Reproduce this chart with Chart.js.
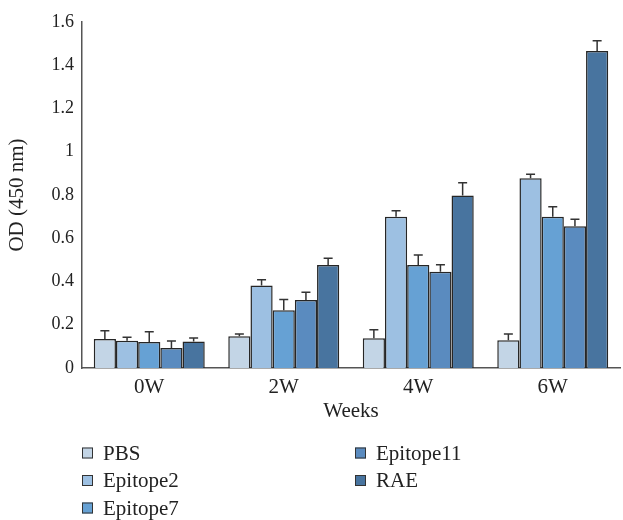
<!DOCTYPE html>
<html>
<head>
<meta charset="utf-8">
<script src="https://cdn.jsdelivr.net/npm/chart.js@4.4.0/dist/chart.umd.min.js"></script>
<style>
html,body{margin:0;padding:0;background:#fff;}
#wrap{width:623px;height:520px;position:relative;}
</style>
</head>
<body>
<div id="wrap"><canvas id="c" width="623" height="520"></canvas></div>
<script>
const categories = ['0W', '2W', '4W', '6W'];
const seriesNames = ['PBS', 'Epitope2', 'Epitope7', 'Epitope11', 'RAE'];
const pbs = [0.134, 0.147, 0.137, 0.128];
const pbsErr = [0.038, 0.010, 0.040, 0.029];
const epitope2 = [0.126, 0.382, 0.700, 0.877];
const epitope2Err = [0.016, 0.026, 0.027, 0.019];
const epitope7 = [0.120, 0.267, 0.476, 0.700];
const epitope7Err = [0.048, 0.050, 0.047, 0.046];
const epitope11 = [0.092, 0.314, 0.445, 0.655];
const epitope11Err = [0.033, 0.036, 0.033, 0.033];
const rae = [0.123, 0.476, 0.798, 1.466];
const raeErr = [0.016, 0.032, 0.059, 0.047];
const yTicks = [0, 0.2, 0.4, 0.6, 0.8, 1, 1.2, 1.4, 1.6];

const colors = ['#c3d5e6', '#9dc0e2', '#66a1d4', '#5a8bbf', '#48749f'];
const values = [pbs, epitope2, epitope7, epitope11, rae];
const errors = [pbsErr, epitope2Err, epitope7Err, epitope11Err, raeErr];

const FONT = '"Liberation Serif", "DejaVu Serif", serif';

const datasets = seriesNames.map((n, i) => ({
  label: n,
  data: values[i],
  errors: errors[i],
  backgroundColor: colors[i],
  borderColor: '#262626',
  borderWidth: 1.5,
  barPercentage: 1,
  categoryPercentage: 0.825
}));

const errorBars = {
  id: 'errorBars',
  afterDatasetsDraw(chart) {
    const ctx = chart.ctx;
    const ys = chart.scales.y;
    ctx.save();
    ctx.strokeStyle = '#333';
    ctx.lineWidth = 1.5;
    chart.data.datasets.forEach((ds, di) => {
      const meta = chart.getDatasetMeta(di);
      meta.data.forEach((el, j) => {
        const v = ds.data[j], e = ds.errors[j];
        const yTop = ys.getPixelForValue(v + e);
        const x = el.x;
        ctx.beginPath();
        ctx.moveTo(x, el.y);
        ctx.lineTo(x, yTop);
        ctx.moveTo(x - 4.5, yTop);
        ctx.lineTo(x + 4.5, yTop);
        ctx.stroke();
      });
    });
    ctx.restore();
  }
};

const columnLegend = {
  id: 'columnLegend',
  afterDraw(chart) {
    const ctx = chart.ctx;
    const ca = chart.chartArea;
    const rowsPerCol = 3;
    const rowH = 27.5;
    const colW = 273;
    const y0 = chart.height - 67;
    ctx.save();
    ctx.font = '21px ' + FONT;
    ctx.textBaseline = 'middle';
    ctx.fillStyle = '#222';
    chart.data.datasets.forEach((ds, i) => {
      const col = Math.floor(i / rowsPerCol);
      const row = i % rowsPerCol;
      const x = ca.left + col * colW;
      const y = y0 + row * rowH;
      ctx.fillStyle = ds.backgroundColor;
      ctx.fillRect(x, y - 5.5, 11, 11);
      ctx.strokeStyle = '#333';
      ctx.lineWidth = 1;
      ctx.strokeRect(x + 0.5, y - 5, 10, 10);
      ctx.fillStyle = '#222';
      ctx.fillText(ds.label, x + 21, y + 1);
    });
    ctx.restore();
  }
};

new Chart(document.getElementById('c'), {
  type: 'bar',
  data: { labels: categories, datasets },
  options: {
    responsive: false,
    animation: false,
    events: [],
    layout: { padding: { left: 0, right: 3, top: 22, bottom: 96 } },
    plugins: { legend: { display: false }, tooltip: { enabled: false } },
    scales: {
      x: {
        grid: { display: false, drawTicks: false },
        border: { display: true, color: '#555', width: 1.5 },
        ticks: { color: '#222', font: { family: FONT, size: 21 }, padding: 7 },
        title: { display: true, text: 'Weeks', color: '#222', font: { family: FONT, size: 21 }, padding: { top: 0, bottom: 0 } },
        afterFit(s) { s.height = 56; }
      },
      y: {
        min: 0, max: 1.6,
        afterBuildTicks(s) { s.ticks = yTicks.map(v => ({ value: v })); },
        grid: { display: false, drawTicks: false },
        border: { display: true, color: '#555', width: 1.5 },
        ticks: { color: '#222', font: { family: FONT, size: 18 }, padding: 8,
          callback: v => String(Math.round(v * 10) / 10) },
        title: { display: true, text: 'OD (450 nm)', color: '#222', font: { family: FONT, size: 21 }, padding: { top: 5, bottom: 0 } },
        afterFit(s) { s.width = 82; }
      }
    }
  },
  plugins: [errorBars, columnLegend]
});
</script>
</body>
</html>
